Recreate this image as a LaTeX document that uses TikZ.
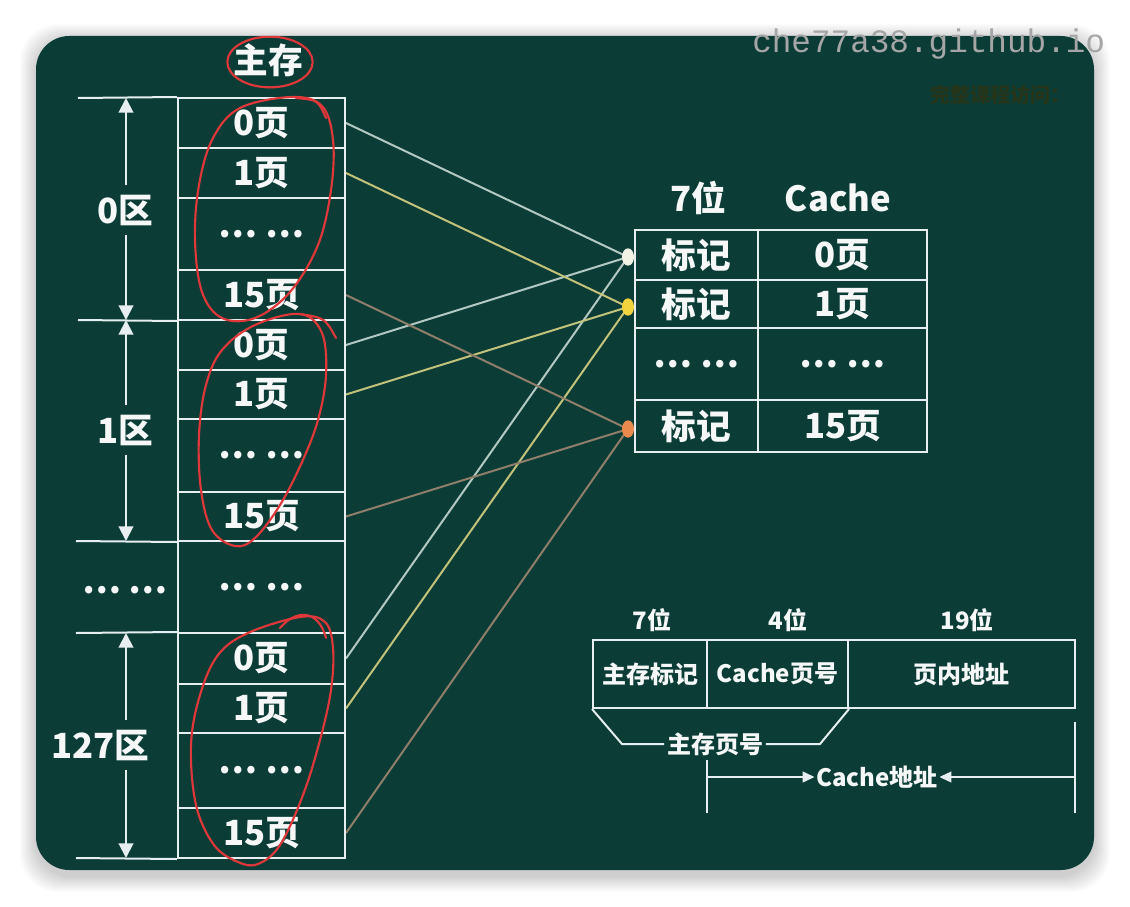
\documentclass[tikz,border=0pt]{standalone}
\usepackage{fontspec}
\newfontfamily\cjk{Noto Sans CJK SC}
\newfontfamily\wmono{Liberation Mono}
\usetikzlibrary{arrows.meta,shapes.geometric}
\pgfdeclarelayer{bg}
\pgfsetlayers{bg,main}
\definecolor{cardgreen}{HTML}{0B3D36}
\definecolor{linewhite}{HTML}{E6EEF0}
\definecolor{txtwhite}{HTML}{F6F8F8}
\definecolor{lnw}{HTML}{B4C8C2}
\definecolor{lny}{HTML}{C2C27A}
\definecolor{lnb}{HTML}{8E7E6A}
\definecolor{dotw}{HTML}{F2F2E4}
\definecolor{doty}{HTML}{F2D43E}
\definecolor{doto}{HTML}{EA8A4C}
\definecolor{pen}{HTML}{E0383A}
\definecolor{wm}{HTML}{A6A6A6}
\definecolor{faint}{HTML}{263519}
\begin{document}
\begin{tikzpicture}[x=0.75pt,y=-0.75pt,
 mcell/.style={draw=linewhite, line width=1.5pt, text=txtwhite, inner sep=0pt, minimum width=125.25pt, font=\cjk\bfseries\fontsize{26}{28}\selectfont},
 hh/.style={minimum height=#1*0.75pt},
 tagcell/.style={mcell, minimum width=92.25pt},
 datcell/.style={mcell, minimum width=126.75pt},
 bigtxt/.style={text=txtwhite, font=\cjk\bfseries\fontsize{26}{28}\selectfont, inner sep=0pt},
 smalltxt/.style={text=txtwhite, font=\cjk\bfseries\fontsize{18}{20}\selectfont, inner sep=0pt},
 fcell/.style={mcell, font=\cjk\bfseries\fontsize{18}{20}\selectfont, minimum height=51pt},
 zlabel/.style={bigtxt, inner ysep=7pt, inner xsep=0pt},
 dimarr/.style={draw=linewhite, line width=1.5pt, -{Triangle[width=11pt,length=11pt]}},
 addrarr/.style={draw=linewhite, line width=1.5pt, -{Triangle[width=8pt,length=9pt]}},
 wline/.style={draw=linewhite, line width=1.5pt},
 conn/.style={line width=1.5pt},
 dotnode/.style={ellipse, inner sep=0pt, minimum width=9pt, minimum height=13pt},
 redpen/.style={draw=pen, line width=1.6pt, line cap=round, line join=round}
]
\useasboundingbox (0,0) rectangle (1130,906);
\begin{pgfonlayer}{bg}
\fill[white] (0,0) rectangle (1130,906);
\foreach \i in {1,...,16} {
  \fill[black, opacity=0.012, rounded corners=28pt] (36-\i,36-\i+4) rectangle (1094+\i,870+\i+6);
}
\fill[cardgreen, rounded corners=25pt] (36,36) rectangle (1094,870);
\end{pgfonlayer}

% faint watermark text inside card
\node[text=faint, font=\cjk\bfseries\fontsize{15}{16}\selectfont, inner sep=0pt, anchor=west] (wm2) at (930,95) {完整课程访问：};

% main memory title
\node[bigtxt] (title) at (268,60) {主存};

% main memory cells
\node[mcell, hh=50] (a0)  at (261.5,123) {0页};
\node[mcell, hh=50] (a1)  at (261.5,173) {1页};
\node[mcell, hh=72] (a2)  at (261.5,234) {… …};
\node[mcell, hh=50] (a15) at (261.5,295) {15页};
\node[mcell, hh=50] (b0)  at (261.5,345) {0页};
\node[mcell, hh=49] (b1)  at (261.5,394.5) {1页};
\node[mcell, hh=73] (b2)  at (261.5,455.5) {… …};
\node[mcell, hh=49] (b15) at (261.5,516.5) {15页};
\node[mcell, hh=92] (mm)  at (261.5,587) {… …};
\node[mcell, hh=51] (c0)  at (261.5,658.5) {0页};
\node[mcell, hh=49] (c1)  at (261.5,708.5) {1页};
\node[mcell, hh=75] (c2)  at (261.5,770.5) {… …};
\node[mcell, hh=50] (c15) at (261.5,833) {15页};

% zone boundary lines
\coordinate (h0) at (78,98);
\coordinate (h1) at (78,320);
\coordinate (h2) at (76,541);
\coordinate (h3) at (76,633);
\coordinate (h4) at (76,858);
\draw[wline] (h0) -- (a0.north west);
\draw[wline] (h1) -- (a15.south west);
\draw[wline] (h2) -- (b15.south west);
\draw[wline] (h3) -- (c0.north west);
\draw[wline] (h4) -- (c15.south west);

% zone labels and dimension arrows
\coordinate (ax) at (126,0);
\node[zlabel] (z0) at (125,210) {0区};
\node[zlabel] (z1) at (125,430) {1区};
\node[zlabel] (zm) at (125,590) {… …};
\node[zlabel] (z127) at (100,745) {127区};
\draw[dimarr] (z0.north -| ax) -- (h0 -| ax);
\draw[dimarr] (z0.south -| ax) -- (h1 -| ax);
\draw[dimarr] (z1.north -| ax) -- (h1 -| ax);
\draw[dimarr] (z1.south -| ax) -- (h2 -| ax);
\draw[dimarr] (z127.north -| ax) -- (h3 -| ax);
\draw[dimarr] (z127.south -| ax) -- (h4 -| ax);

% cache table
\node[bigtxt] (hd1) at (698,198) {7位};
\node[bigtxt] (hd2) at (838,198) {Cache};
\node[tagcell, hh=50] (t0)  at (696.5,255) {标记};
\node[datcell, hh=50] (d0)  at (842.5,255) {0页};
\node[tagcell, hh=48] (t1)  at (696.5,304) {标记};
\node[datcell, hh=48] (d1)  at (842.5,304) {1页};
\node[tagcell, hh=72] (t2)  at (696.5,364) {… …};
\node[datcell, hh=72] (d2)  at (842.5,364) {… …};
\node[tagcell, hh=52] (t15) at (696.5,426) {标记};
\node[datcell, hh=52] (d15) at (842.5,426) {15页};

% convergence dots
\node[dotnode, fill=dotw] (dw) at (628,257) {};
\node[dotnode, fill=doty] (dy) at (628,307) {};
\node[dotnode, fill=doto] (do) at (628,429) {};

% connectors
\begin{pgfonlayer}{bg}
\foreach \s/\t/\c in {a0/dw/lnw, b0/dw/lnw, c0/dw/lnw, a1/dy/lny, b1/dy/lny, c1/dy/lny, a15/do/lnb, b15/do/lnb, c15/do/lnb} {
  \draw[conn, draw=\c] (\s.east) -- (\t.center);
}
\end{pgfonlayer}

% address format
\node[smalltxt] (bw1) at (652,620) {7位};
\node[smalltxt] (bw2) at (788,620) {4位};
\node[smalltxt] (bw3) at (967,620) {19位};
\node[fcell, minimum width=85.5pt] (f1) at (650,674) {主存标记};
\node[fcell, minimum width=105.75pt] (f2) at (777.5,674) {Cache页号};
\node[fcell, minimum width=170.25pt] (f3) at (961.5,674) {页内地址};
\node[smalltxt, inner xsep=2pt] (zy) at (715,744) {主存页号};
\coordinate (bl) at (622,744);
\coordinate (br) at (820,744);
\draw[wline] (f1.south west) -- (bl) -- (zy.west);
\draw[wline] (zy.east) -- (br) -- (f2.south east);
\node[smalltxt, inner xsep=1pt] (ca) at (877,777) {Cache地址};
\coordinate (vl1) at (707,760);
\coordinate (vl2) at (707,813);
\coordinate (vr1) at (1075,722);
\coordinate (vr2) at (1075,813);
\draw[wline] (vl1) -- (vl2);
\draw[wline] (vr1) -- (vr2);
\draw[addrarr] (ca.west -| vl1) -- (ca.west);
\draw[addrarr] (ca.east -| vr1) -- (ca.east);

% red hand-drawn annotations
\begin{scope}
\clip[rounded corners=25pt] (36,36) rectangle (1094,870);
\draw[redpen] (270,62) ellipse [x radius=32pt, y radius=19pt];
\draw[redpen] plot[smooth cycle, tension=0.6] coordinates {(292,97) (322,106) (333,140) (331,190) (318,245) (290,292) (255,318) (222,318) (202,292) (195,240) (199,185) (213,138) (240,108)};
\draw[redpen] (296,98) .. controls (318,100) .. (326,118);
\draw[redpen] plot[smooth cycle, tension=0.6] coordinates {(300,314) (322,333) (326,375) (318,420) (302,462) (280,505) (255,538) (235,546) (212,530) (201,490) (199,435) (206,385) (222,350) (255,325)};
\draw[redpen] (300,314) .. controls (325,318) .. (336,338);
\draw[redpen] plot[smooth cycle, tension=0.6] coordinates {(300,617) (325,622) (333,648) (331,690) (320,740) (303,795) (280,845) (258,864) (238,862) (214,845) (196,805) (191,745) (200,695) (218,655) (248,633)};
\draw[redpen] (280,628) .. controls (295,610) and (318,608) .. (326,638);
\end{scope}

% watermark
\node[text=wm, font=\wmono\fontsize{24.5}{26}\selectfont, inner sep=0pt, anchor=base west] (wm1) at (752,53) {che77a38.github.io};
\end{tikzpicture}
\end{document}
